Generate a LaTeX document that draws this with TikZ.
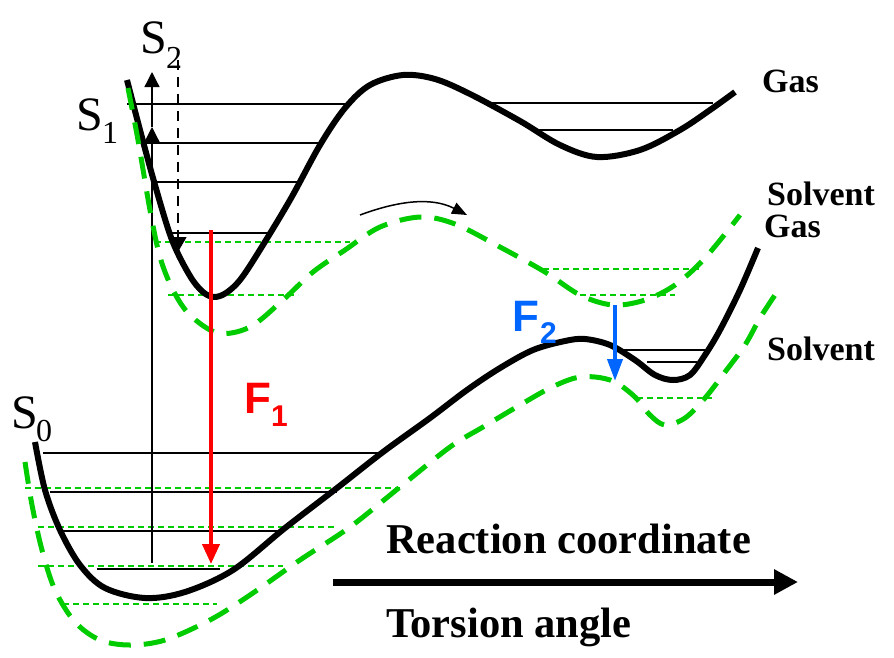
\documentclass[tikz,border=0pt]{standalone}
\usepackage{fontspec}
\setmainfont{Liberation Serif}
\newfontfamily\arialf{Liberation Sans}
\usetikzlibrary{arrows.meta}
\definecolor{grn}{RGB}{0,204,0}
\definecolor{fred}{RGB}{255,0,0}
\definecolor{fblue}{RGB}{0,102,255}
\begin{document}
\begin{tikzpicture}[x=1pt,y=-1pt,
  pes/.style={line width=6pt},
  gpes/.style={grn,line width=5pt,dash pattern=on 22pt off 13pt},
  lev/.style={line width=1.3pt},
  glev/.style={grn,line width=1.3pt,dash pattern=on 6pt off 4pt},
  lbl/.style={anchor=base west,inner sep=0pt},
  slbl/.style={lbl,font=\fontsize{48}{50}\selectfont},
  ssub/.style={lbl,font=\fontsize{32}{34}\selectfont},
  flbl/.style={lbl,font=\arialf\bfseries\fontsize{44}{46}\selectfont},
  fsub/.style={lbl,font=\arialf\bfseries\fontsize{30}{32}\selectfont},
  medlbl/.style={lbl,font=\bfseries\fontsize{34}{36}\selectfont},
  biglbl/.style={lbl,font=\bfseries\fontsize{42.5}{44}\selectfont}]
\path[use as bounding box] (0,0) rectangle (894,657);

% ---- S1 levels (gas)
\draw[lev] (127,104) -- (347,104);
\draw[lev] (143,143) -- (320,143);
\draw[lev] (155,182) -- (300,182);
\draw[lev] (170,233) -- (270,233);
\draw[lev] (487,103) -- (713,103);
\draw[lev] (533,130) -- (673,130);
% ---- S1 levels (solvent)
\draw[glev] (155,242) -- (350,242);
\draw[glev] (168,295) -- (298,295);
\draw[glev] (543,269) -- (700,269);
\draw[glev] (580,295) -- (675,295);
% ---- S0 levels (gas)
\draw[lev] (43,453) -- (383,453);
\draw[lev] (50,492) -- (337,492);
\draw[lev] (63,531) -- (283,531);
\draw[lev] (97,569) -- (220,569);
\draw[lev] (623,350) -- (705,350);
\draw[lev] (647,362) -- (697,362);
% ---- S0 levels (solvent)
\draw[glev] (25,488) -- (400,488);
\draw[glev] (38,527) -- (337,527);
\draw[glev] (38,566) -- (283,566);
\draw[glev] (63,604) -- (217,604);
\draw[glev] (637,398) -- (712,398);

% ---- excitation arrows
\coordinate (vb) at (152,563);
\coordinate (vm) at (152,127);
\coordinate (vt) at (152,72);
\draw[lev,-{Triangle[length=15pt,width=15pt]}] (vb) -- (vm);
\draw[lev,-{Triangle[length=15pt,width=15pt]}] (vm) -- (vt);
\coordinate (dt) at (178,60);
\coordinate (db) at (178,252);
\draw[lev,dash pattern=on 10pt off 7pt,-{Triangle[length=15pt,width=17pt]}] (dt) -- (db);

% ---- S1 gas curve
\draw[pes] plot[smooth,tension=0.55] coordinates {(127,80) (140,130) (155,185) (172,240) (190,276) (203,292) (214,297) (226,293) (240,280) (258,253) (290,200) (320,145) (345,108) (370,85) (403,75) (435,79) (470,94) (520,121) (560,145) (597,157) (640,150) (680,130) (710,110) (735,92)};
% ---- S0 gas curve
\draw[pes] plot[smooth,tension=0.55] coordinates {(35,442) (45,490) (60,530) (80,565) (105,588) (145,598) (185,592) (233,570) (285,528) (337,488) (383,452) (430,418) (467,390) (500,368) (533,350) (565,341) (585,339) (610,345) (635,360) (655,375) (673,380) (690,375) (705,355) (720,330) (740,290) (758,248)};
% ---- S1 solvent curve
\draw[gpes] plot[smooth,tension=0.55] coordinates {(128,88) (138,140) (150,210) (160,257) (173,290) (190,315) (218,333) (250,327) (283,300) (313,272) (345,250) (380,227) (420,217) (455,224) (500,247) (545,272) (580,295) (613,305) (645,300) (675,285) (705,258) (740,215)};
% ---- S0 solvent curve
\draw[gpes] plot[smooth,tension=0.55] coordinates {(25,462) (32,505) (42,550) (55,590) (75,622) (100,640) (130,645) (165,640) (210,620) (250,595) (300,560) (350,527) (400,487) (450,447) (483,427) (520,405) (550,388) (575,378) (595,377) (615,382) (635,397) (650,415) (665,425) (685,418) (705,398) (725,372) (745,345) (760,318) (775,295)};

% ---- small curved arrow
\coordinate (ca) at (360,215);
\coordinate (cb) at (467,215);
\draw[line width=1.5pt,-{Triangle[length=15pt,width=12pt]}] (ca) .. controls (395,202) and (430,196) .. (cb);

% ---- fluorescence arrows
\coordinate (f1s) at (211,230);
\coordinate (f1e) at (211,564);
\draw[fred,line width=4pt,-{Triangle[length=20pt,width=17pt]}] (f1s) -- (f1e);
\coordinate (f2s) at (615,305);
\coordinate (f2e) at (615,381);
\draw[fblue,line width=4pt,-{Triangle[length=22pt,width=15pt]}] (f2s) -- (f2e);

% ---- axis arrow
\coordinate (ax1) at (333,582);
\coordinate (ax2) at (798,582);
\draw[line width=7pt,-{Triangle[length=24pt,width=24pt]}] (ax1) -- (ax2);

% ---- labels
\node[slbl] (S2) at (140,53) {S};
\node[ssub] (S2s) at (166,68) {2};
\node[slbl] (S1) at (76,130) {S};
\node[ssub] (S1s) at (102,143) {1};
\node[slbl] (S0) at (11,428) {S};
\node[ssub] (S0s) at (36,441) {0};
\node[flbl,fred] (F1) at (244,413) {F};
\node[fsub,fred] (F1s) at (271,426) {1};
\node[flbl,fblue] (F2) at (512,331) {F};
\node[fsub,fblue] (F2s) at (540,343) {2};
\node[medlbl] (gas1) at (762,92) {Gas};
\node[medlbl] (sol1) at (767,205) {Solvent};
\node[medlbl] (gas0) at (764,237) {Gas};
\node[medlbl] (sol0) at (767,360) {Solvent};
\node[biglbl] (rc) at (386,553) {Reaction coordinate};
\node[biglbl] (ta) at (386,637) {Torsion angle};
\end{tikzpicture}
\end{document}
